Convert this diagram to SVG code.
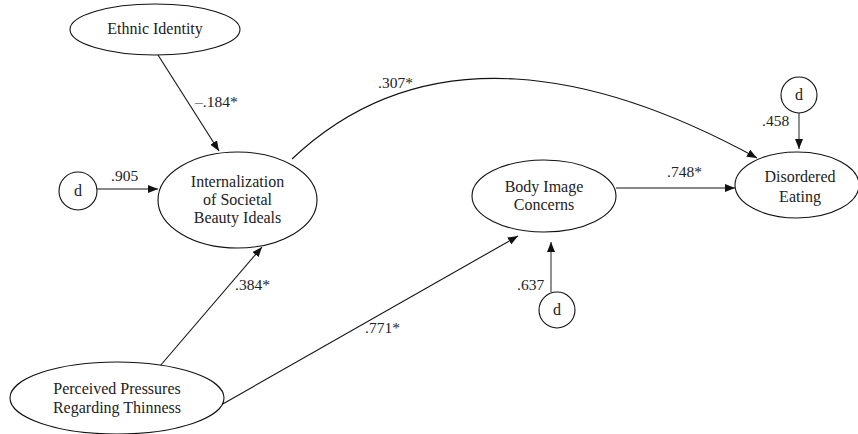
<svg xmlns="http://www.w3.org/2000/svg" width="858" height="434" viewBox="0 0 858 434">
<style>
.n{fill:#fff;stroke:#111;stroke-width:1.1}
.t{font-family:'Liberation Serif','DejaVu Serif',serif;font-size:16px;fill:#222;text-anchor:middle}
.l{font-family:'Liberation Serif','DejaVu Serif',serif;font-size:15.5px;fill:#222}
.c{fill:none;stroke:#111;stroke-width:1.1}
.g{fill:none;stroke:#555;stroke-width:1.3}
</style>
<defs>
<marker id="a" viewBox="0 0 10 8" refX="10" refY="4" markerWidth="10" markerHeight="8" markerUnits="userSpaceOnUse" orient="auto"><path d="M0,0L10,4L0,8z" fill="#111"/></marker>
</defs>
<g id="connectors">
<line class="c" x1="158" y1="55" x2="219" y2="151" marker-end="url(#a)"/>
<line class="c" x1="97" y1="189" x2="158" y2="189" marker-end="url(#a)"/>
<path class="c" d="M292,159 C425,33 600,72 757,158" marker-end="url(#a)"/>
<line class="g" x1="799" y1="113" x2="799" y2="149" marker-end="url(#a)"/>
<line class="c" x1="616" y1="188" x2="735" y2="188" marker-end="url(#a)"/>
<line class="g" x1="551" y1="292" x2="551" y2="242" marker-end="url(#a)"/>
<line class="c" x1="160" y1="366" x2="262" y2="247" marker-end="url(#a)"/>
<line class="c" x1="221" y1="405" x2="518" y2="236" marker-end="url(#a)"/>
<text class="l" x="195" y="107">–.184*</text>
<text class="l" x="111" y="181">.905</text>
<text class="l" x="378" y="88">.307*</text>
<text class="l" x="762" y="126">.458</text>
<text class="l" x="667" y="177">.748*</text>
<text class="l" x="517" y="290">.637</text>
<text class="l" x="235" y="290">.384*</text>
<text class="l" x="365" y="333">.771*</text>
</g>
<g id="ethnic"><ellipse class="n" cx="155" cy="29.5" rx="85" ry="25.5"/><text class="t" x="155" y="34">Ethnic Identity</text></g>
<g id="d1"><circle class="n" cx="78" cy="191" r="19"/><text class="t" x="78" y="196">d</text></g>
<g id="internal"><ellipse class="n" cx="237.5" cy="200" rx="79.5" ry="48"/><text class="t" x="237.5" y="187">Internalization</text><text class="t" x="237.5" y="205">of Societal</text><text class="t" x="237.5" y="223">Beauty Ideals</text></g>
<g id="body"><ellipse class="n" cx="544" cy="196" rx="72" ry="36"/><text class="t" x="544" y="192">Body Image</text><text class="t" x="544" y="210">Concerns</text></g>
<g id="d3"><circle class="n" cx="557" cy="310" r="18"/><text class="t" x="557" y="315">d</text></g>
<g id="disordered"><ellipse class="n" cx="797" cy="185" rx="62" ry="33"/><text class="t" x="800" y="182">Disordered</text><text class="t" x="800" y="202">Eating</text></g>
<g id="d2"><circle class="n" cx="799" cy="95" r="18"/><text class="t" x="799" y="100">d</text></g>
<g id="perceived"><ellipse class="n" cx="117" cy="398" rx="107" ry="36"/><text class="t" x="117" y="394">Perceived Pressures</text><text class="t" x="117" y="413">Regarding Thinness</text></g>
</svg>
